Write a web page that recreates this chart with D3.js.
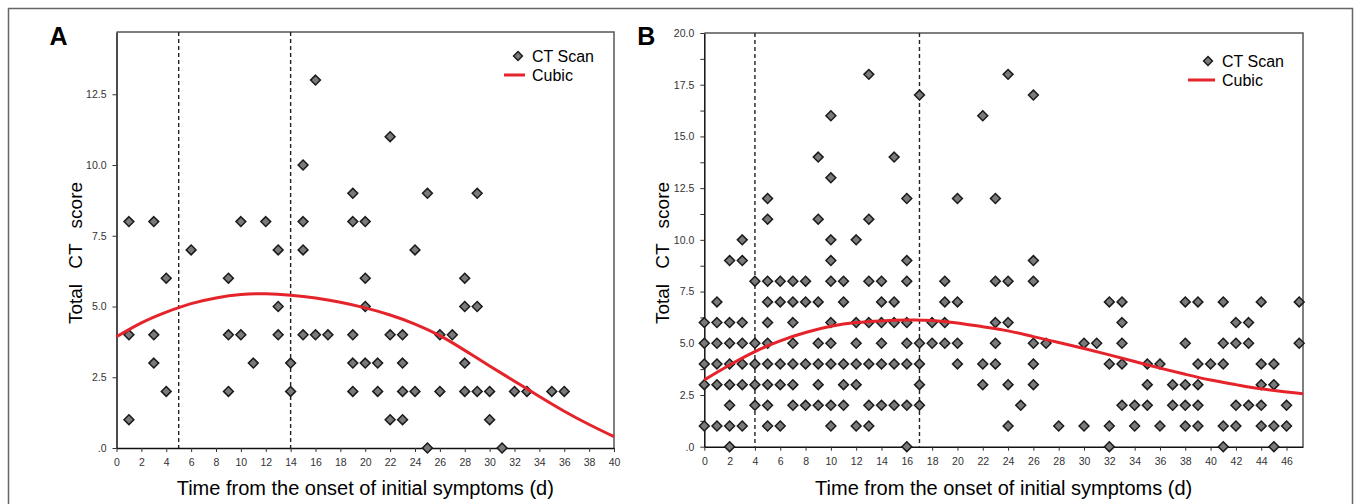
<!DOCTYPE html>
<html>
<head>
<meta charset="utf-8">
<script src="https://d3js.org/d3.v7.min.js"></script>
<style>
  body { margin: 0; background: #fff; }
  svg { display: block; font-family: "Liberation Sans", Arial, sans-serif; }
  .tick text { fill: #333; font-size: 10.5px; }
  .tick line { stroke: #333; }
</style>
</head>
<body>
<svg width="1356" height="504"></svg>
<script>
// panel A: days since onset, and the CT scores seen on each day
var aDays = [1, 3, 4, 6, 9, 10, 11, 12, 13, 14, 15, 16, 17, 19, 20, 21, 22, 23, 24, 25,
             26, 27, 28, 29, 30, 31, 32, 33, 35, 36];
var aScores = [[8,4,1], [8,4,3], [6,2], [7], [6,4,2], [8,4], [3], [8], [7,5,4], [3,2],
               [10,8,7,4], [13,4], [4], [9,8,4,3,2], [8,6,5,3], [3,2], [11,4,1], [4,3,2,1], [7,2], [9,0],
               [4,2], [4], [6,5,3,2], [9,5,2], [2,1], [0], [2], [2], [2], [2]];
// cubic fit
var aFitDays = [0, 2, 4, 6, 8, 10, 12, 14, 16, 18, 20, 22, 24, 26, 28, 30, 32, 34, 36, 38, 40];
var aFitScores = [3.93, 4.42, 4.8, 5.1, 5.3, 5.42, 5.45, 5.4, 5.3, 5.15, 4.95, 4.7, 4.38, 3.97,
                  3.45, 2.9, 2.36, 1.82, 1.3, 0.83, 0.4];
var aCuts = [5, 14];
var aXTicks = [0, 2, 4, 6, 8, 10, 12, 14, 16, 18, 20, 22, 24, 26, 28, 30, 32, 34, 36, 38, 40];
var aYTicks = [0, 2.5, 5, 7.5, 10, 12.5];
var aYLabels = [".0", "2.5", "5.0", "7.5", "10.0", "12.5"];

// panel B
var bDays = [0, 1, 2, 3, 4, 5, 6, 7, 8, 9, 10, 11, 12, 13, 14, 15, 16, 17, 18, 19, 20,
             22, 23, 24, 25, 26, 27, 28, 30, 31, 32, 33, 34, 35, 36, 37, 38, 39, 40, 41, 42,
             43, 44, 45, 46, 47];
var bScores = [[6,5,4,3,1], [7,6,5,4,3,1], [9,6,5,4,3,2,1,0], [10,9,6,5,4,3,1], [8,5,4,3,2],
               [12,11,8,7,6,5,4,3,2,1], [8,7,4,3,1], [8,7,6,5,4,3,2], [8,7,4,2], [14,11,7,5,4,3,2],
               [16,13,10,9,8,6,5,4,2,1], [8,7,4,3,2], [10,6,5,4,3,1], [18,11,8,6,4,2,1], [8,7,6,5,4,2],
               [14,7,6,4,2], [12,9,8,6,5,4,2,0], [17,5,4,3,2], [6,5], [8,7,6,5], [12,7,5,4],
               [16,4,3], [12,8,6,5,4], [18,8,6,3,1], [2], [17,9,8,5,4,3], [5], [1],
               [5,1], [5], [7,4,1,0], [7,6,5,4,2], [2,1], [4,3,2], [4,1], [3,2], [7,5,3,2,1],
               [7,4,3,2,1], [4], [7,5,4,1,0], [6,5,2,1], [6,5,2], [7,4,3,2,1], [4,3,1,0], [2,1], [7,5]];
var bFitDays = [0, 2, 4, 6, 8, 10, 12, 14, 16, 18, 20, 22, 24, 26, 28, 30, 32, 34, 36, 38, 40,
                42, 44, 46, 47.3];
var bFitScores = [3.23, 3.95, 4.6, 5.12, 5.52, 5.82, 6.0, 6.08, 6.12, 6.1, 5.98, 5.8, 5.6, 5.32,
                  5.04, 4.75, 4.44, 4.12, 3.8, 3.5, 3.22, 3.0, 2.8, 2.64, 2.56];
var bCuts = [4, 17];
var bXTicks = [0, 2, 4, 6, 8, 10, 12, 14, 16, 18, 20, 22, 24, 26, 28, 30, 32, 34, 36, 38, 40,
               42, 44, 46];
var bYTicks = [0, 2.5, 5, 7.5, 10, 12.5, 15, 17.5, 20];
var bYLabels = [".0", "2.5", "5.0", "7.5", "10.0", "12.5", "15.0", "17.5", "20.0"];
var bYMinor = [1.25, 3.75, 6.25, 8.75, 11.25, 13.75, 16.25, 18.75];

var svg = d3.select("svg");

// outer frame, open at the bottom
svg.append("path")
    .attr("d", "M8.5,510V8.5H1352.5V510")
    .attr("fill", "none")
    .attr("stroke", "#666")
    .attr("stroke-width", 1.5);

var drawPanel = function(p) {
  var x = d3.scaleLinear().domain(p.xDomain).range([p.left, p.right]);
  var y = d3.scaleLinear().domain(p.yDomain).range([p.bottom, p.top]);

  // top and right frame
  svg.append("path")
      .attr("d", "M" + p.left + "," + p.top + "H" + p.right + "V" + p.bottom)
      .attr("fill", "none")
      .attr("stroke", "#555")
      .attr("stroke-width", 1.5);

  var xAxis = svg.append("g")
      .attr("transform", "translate(0," + p.bottom + ")")
      .call(d3.axisBottom(x).tickValues(p.xTicks).tickSize(4).tickSizeOuter(0).tickPadding(7));
  var yAxis = svg.append("g")
      .attr("transform", "translate(" + p.left + ",0)")
      .call(d3.axisLeft(y).tickValues(p.yTicks).tickSize(4).tickSizeOuter(0).tickPadding(6)
        .tickFormat((d, i) => p.yLabels[i]));
  if (p.yMinor) {
    svg.append("g")
        .attr("transform", "translate(" + p.left + ",0)")
        .call(d3.axisLeft(y).tickValues(p.yMinor).tickSize(4).tickFormat(""))
        .select(".domain").remove();
  }
  [xAxis, yAxis].forEach(function(g) {
    g.select(".domain").attr("stroke", "#111").attr("stroke-width", 1.5);
  });

  // cut-off days
  p.cuts.forEach(function(c) {
    svg.append("line")
        .attr("x1", x(c)).attr("x2", x(c))
        .attr("y1", p.top).attr("y2", p.bottom)
        .attr("stroke", "#222")
        .attr("stroke-width", 1.4)
        .attr("stroke-dasharray", "4,3");
  });

  var pts = [];
  p.days.forEach(function(d, i) {
    p.scores[i].forEach(function(s) { pts.push({day: d, score: s}); });
  });

  var diamond = d3.symbol().type(d3.symbolDiamond2).size(62);
  svg.append("g").selectAll("path")
      .data(pts)
    .enter().append("path")
      .attr("transform", d => "translate(" + x(d.day) + "," + y(d.score) + ")")
      .attr("d", diamond)
      .attr("fill", "#7a7a7a")
      .attr("stroke", "#1a1a1a")
      .attr("stroke-width", 1.5);

  var line = d3.line()
    .x((d, i) => x(d))
    .y((d, i) => y(p.fitScores[i]))
    .curve(d3.curveNatural);
  svg.append("path")
      .attr("d", line(p.fitDays))
      .attr("fill", "none")
      .attr("stroke", "#e5232b")
      .attr("stroke-width", 3);

  // legend
  svg.append("path")
      .attr("transform", "translate(" + p.legX + "," + (p.legY - 6) + ")")
      .attr("d", d3.symbol().type(d3.symbolDiamond2).size(50))
      .attr("fill", "#7a7a7a")
      .attr("stroke", "#1a1a1a")
      .attr("stroke-width", 1.5);
  svg.append("text")
      .attr("x", p.legX + 14).attr("y", p.legY)
      .style("font-size", "16px")
      .text("CT Scan");
  svg.append("line")
      .attr("x1", p.legX - p.legLine).attr("x2", p.legX + 7)
      .attr("y1", p.legY + 13).attr("y2", p.legY + 13)
      .attr("stroke", "#e5232b")
      .attr("stroke-width", 3);
  svg.append("text")
      .attr("x", p.legX + 14).attr("y", p.legY + 19)
      .style("font-size", "16px")
      .text("Cubic");

  // titles
  svg.append("text")
      .attr("x", p.left - 67).attr("y", 45)
      .style("font-size", "25px")
      .style("font-weight", "bold")
      .text(p.name);
  svg.append("text")
      .style("text-anchor", "middle")
      .style("font-size", "20px")
      .attr("x", (p.left + p.right) / 2).attr("y", 495)
      .text("Time from the onset of initial symptoms (d)");
  svg.append("text")
      .attr("transform", "translate(" + (p.left - 35) + ",253) rotate(-90)")
      .style("text-anchor", "middle")
      .style("font-size", "19px")
      .style("word-spacing", "10px")
      .text("Total CT score");
};

drawPanel({name: "A", left: 116.5, right: 614, top: 32, bottom: 448,
           xDomain: [0, 40], yDomain: [0, 14.7],
           xTicks: aXTicks, yTicks: aYTicks, yLabels: aYLabels,
           days: aDays, scores: aScores, fitDays: aFitDays, fitScores: aFitScores,
           cuts: aCuts, legX: 518, legY: 62, legLine: 14});
drawPanel({name: "B", left: 704.3, right: 1303, top: 33, bottom: 446.7,
           xDomain: [0, 47.3], yDomain: [0, 20],
           xTicks: bXTicks, yTicks: bYTicks, yLabels: bYLabels, yMinor: bYMinor,
           days: bDays, scores: bScores, fitDays: bFitDays, fitScores: bFitScores,
           cuts: bCuts, legX: 1208, legY: 67, legLine: 20});
</script>
</body>
</html>
